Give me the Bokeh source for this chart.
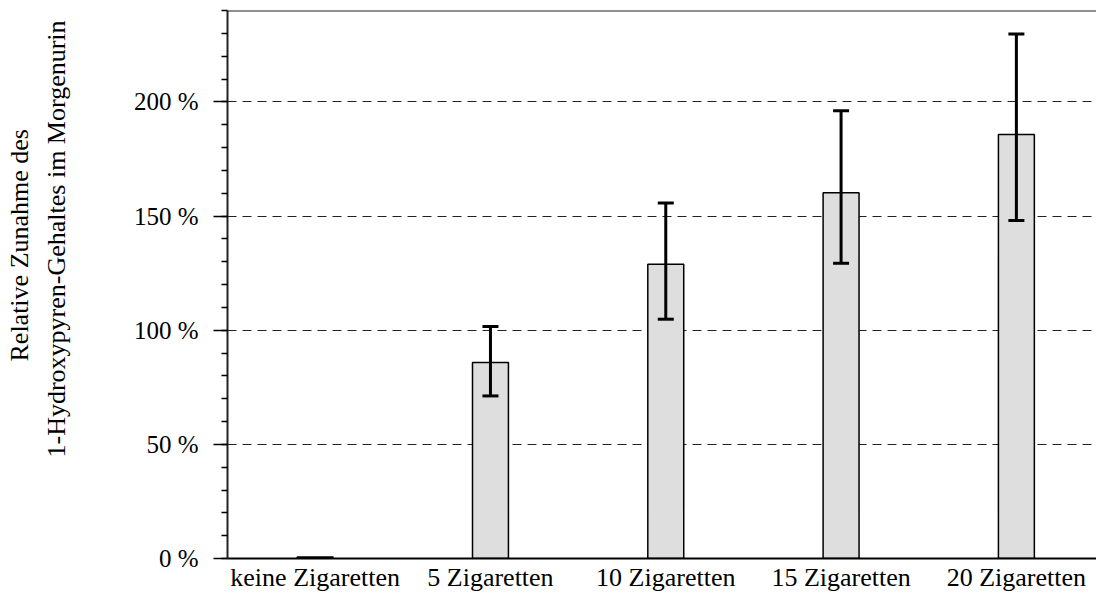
from bokeh.plotting import figure
from bokeh.models import (ColumnDataSource, Whisker, TeeHead, FixedTicker, SingleIntervalTicker,
                          PrintfTickFormatter, Span, Title, Range1d)
from bokeh.embed import file_html
from bokeh.resources import INLINE

categories = ["keine Zigaretten", "5 Zigaretten", "10 Zigaretten", "15 Zigaretten", "20 Zigaretten"]
values = [0.7, 85.8, 128.9, 160.2, 185.7]
err_upper = [None, 101.6, 155.7, 196.1, 229.7]
err_lower = [None, 71.2, 104.8, 129.3, 148.0]
grid_ticks = [50, 100, 150, 200]
Y_MAX = 240

FONT = "Liberation Serif"
QFONT = '"Liberation Serif"'
FS = "25px"
FS_BIG = "26px"

xs = list(range(len(categories)))
src = ColumnDataSource(dict(x=xs, top=values))
wi = [i for i, u in enumerate(err_upper) if u is not None]
wsrc = ColumnDataSource(dict(x=[xs[i] for i in wi], upper=[err_upper[i] for i in wi],
                             lower=[err_lower[i] for i in wi]))

p = figure(width=1096, height=598, output_backend="svg", toolbar_location=None,
           x_range=Range1d(-0.5, 4.457), y_range=Range1d(0, Y_MAX),
           min_border_left=227, min_border_right=0, min_border_top=10, min_border_bottom=40)
p.outline_line_color = None
p.background_fill_color = "white"
p.border_fill_color = "white"

p.vbar(x="x", top="top", width=0.205, source=src, fill_color="#dedede",
       line_color="black", line_width=1.5)

wh = Whisker(base="x", upper="upper", lower="lower", source=wsrc, line_width=3, line_color="black",
             upper_head=TeeHead(size=16, line_width=3, line_color="black"),
             lower_head=TeeHead(size=16, line_width=3, line_color="black"))
wh.level = "overlay"
p.add_layout(wh)

p.add_layout(Span(location=Y_MAX, dimension="width", line_color="#222222", line_width=2))

# grid
p.xgrid.visible = False
p.ygrid.ticker = FixedTicker(ticks=grid_ticks)
p.ygrid.grid_line_color = "#222222"
p.ygrid.grid_line_dash = "9 6"
p.ygrid.grid_line_width = 1

# y axis
ya = p.yaxis[0]
ya.ticker = SingleIntervalTicker(interval=50, num_minor_ticks=5)
ya.formatter = PrintfTickFormatter(format="%d %%")
ya.major_tick_out = 14
ya.major_tick_in = 0
ya.minor_tick_out = 6
ya.minor_tick_in = 0
ya.major_tick_line_width = 1.5
ya.minor_tick_line_width = 1.5
ya.axis_line_width = 2
ya.axis_line_color = "#222222"
ya.major_label_standoff = 15
ya.major_label_text_font = QFONT
ya.major_label_text_font_size = FS
ya.major_label_text_color = "black"

# x axis
xa = p.xaxis[0]
xa.ticker = FixedTicker(ticks=xs)
xa.major_label_overrides = {i: c for i, c in zip(xs, categories)}
xa.major_tick_out = 0
xa.major_tick_in = 0
xa.minor_tick_out = 0
xa.minor_tick_in = 0
xa.axis_line_width = 2
xa.axis_line_color = "black"
xa.major_label_standoff = 4
xa.major_label_text_font = QFONT
xa.major_label_text_font_size = FS_BIG
xa.major_label_text_color = "black"

# two-line y label as titles on the left (with thin spacer titles between)
def spacer(gap):
    return Title(text=" ", text_font_size="1px", standoff=gap, text_color="white")

t2 = Title(text="1-Hydroxypyren-Gehaltes im Morgenurin", align="left", offset=101,
           text_font=FONT, text_font_size=FS_BIG, text_font_style="normal", text_color="black",
           standoff=0)
t1 = Title(text="Relative Zunahme des", align="left", offset=197,
           text_font=FONT, text_font_size=FS_BIG, text_font_style="normal", text_color="black",
           standoff=0)
p.add_layout(spacer(57), "left")
p.add_layout(t2, "left")
p.add_layout(spacer(3), "left")
p.add_layout(t1, "left")

open("out.html", "w").write(file_html(p, INLINE))
